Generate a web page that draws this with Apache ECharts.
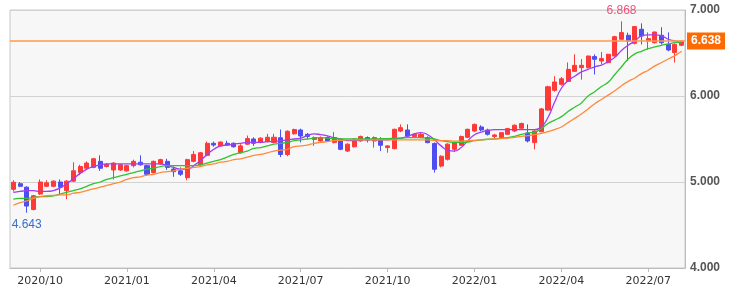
<!DOCTYPE html>
<html><head><meta charset="utf-8">
<script src="https://cdn.jsdelivr.net/npm/echarts@6/dist/echarts.min.js"></script>
<style>html,body{margin:0;padding:0;background:#fff}#c{width:740px;height:292px}</style>
</head><body><div id="c"></div>
<script>
const dates = [
'2020/08/31','2020/09/07','2020/09/14','2020/09/21','2020/09/28','2020/10/05','2020/10/12','2020/10/19','2020/10/26','2020/11/02',
'2020/11/09','2020/11/16','2020/11/23','2020/11/30','2020/12/07','2020/12/14','2020/12/21','2020/12/28','2021/01/04','2021/01/11',
'2021/01/18','2021/01/25','2021/02/01','2021/02/08','2021/02/15','2021/02/22','2021/03/01','2021/03/08','2021/03/15','2021/03/22',
'2021/03/29','2021/04/05','2021/04/12','2021/04/19','2021/04/26','2021/05/03','2021/05/10','2021/05/17','2021/05/24','2021/05/31',
'2021/06/07','2021/06/14','2021/06/21','2021/06/28','2021/07/05','2021/07/12','2021/07/19','2021/07/26','2021/08/02','2021/08/09',
'2021/08/16','2021/08/23','2021/08/30','2021/09/06','2021/09/13','2021/09/20','2021/09/27','2021/10/04','2021/10/11','2021/10/18',
'2021/10/25','2021/11/01','2021/11/08','2021/11/15','2021/11/22','2021/11/29','2021/12/06','2021/12/13','2021/12/20','2021/12/27',
'2022/01/03','2022/01/10','2022/01/17','2022/01/24','2022/01/31','2022/02/07','2022/02/14','2022/02/21','2022/02/28','2022/03/07',
'2022/03/14','2022/03/21','2022/03/28','2022/04/04','2022/04/11','2022/04/18','2022/04/25','2022/05/02','2022/05/09','2022/05/16',
'2022/05/23','2022/05/30','2022/06/06','2022/06/13','2022/06/20','2022/06/27','2022/07/04','2022/07/11','2022/07/18','2022/07/25',
'2022/08/01'];

const opens = [
4.915,4.98,4.94,4.68,4.86,4.95,4.95,5.00,4.90,5.01,
5.11,5.16,5.17,5.24,5.18,5.14,5.14,5.13,5.19,5.23,
5.19,5.11,5.21,5.24,5.15,5.13,5.05,5.24,5.20,5.31,
5.45,5.42,5.45,5.45,5.34,5.44,5.50,5.46,5.47,5.46,
5.515,5.32,5.56,5.605,5.555,5.495,5.477,5.516,5.458,5.497,
5.36,5.41,5.477,5.516,5.477,5.49,5.40,5.388,5.593,5.605,
5.527,5.516,5.516,5.447,5.186,5.264,5.38,5.427,5.52,5.593,
5.64,5.605,5.528,5.516,5.555,5.593,5.625,5.57,5.458,5.584,
5.836,6.066,6.136,6.17,6.287,6.33,6.33,6.458,6.407,6.388,
6.465,6.66,6.706,6.613,6.776,6.64,6.62,6.706,6.60,6.505,
6.59];
const closes = [
4.997,4.95,4.72,4.84,5.00,4.99,5.01,4.94,5.01,5.13,
5.18,5.22,5.27,5.16,5.205,5.22,5.20,5.19,5.24,5.20,
5.09,5.24,5.26,5.17,5.12,5.09,5.26,5.32,5.34,5.45,
5.43,5.465,5.43,5.41,5.42,5.505,5.45,5.51,5.52,5.52,
5.32,5.59,5.61,5.535,5.53,5.516,5.516,5.477,5.516,5.38,
5.44,5.50,5.528,5.488,5.516,5.427,5.42,5.613,5.632,5.535,
5.555,5.555,5.458,5.148,5.30,5.44,5.458,5.528,5.613,5.67,
5.605,5.555,5.547,5.574,5.621,5.66,5.68,5.477,5.593,5.85,
6.107,6.163,6.20,6.31,6.357,6.357,6.465,6.427,6.435,6.485,
6.69,6.737,6.64,6.807,6.698,6.667,6.744,6.62,6.535,6.60,
6.638];
const lows = [
4.89,4.94,4.643,4.67,4.85,4.94,4.94,4.86,4.80,5.00,
5.08,5.15,5.16,5.13,5.17,5.03,5.13,5.12,5.17,5.19,
5.07,5.10,5.20,5.14,5.06,5.07,5.02,5.23,5.19,5.30,
5.41,5.41,5.42,5.40,5.33,5.43,5.42,5.45,5.46,5.45,
5.29,5.30,5.55,5.46,5.50,5.42,5.47,5.47,5.45,5.37,
5.35,5.40,5.47,5.46,5.40,5.36,5.34,5.38,5.58,5.52,
5.52,5.51,5.45,5.11,5.17,5.25,5.35,5.42,5.51,5.58,
5.59,5.54,5.51,5.51,5.55,5.58,5.62,5.46,5.38,5.58,
5.83,6.05,6.12,6.16,6.28,6.19,6.32,6.25,6.37,6.38,
6.46,6.65,6.407,6.60,6.60,6.54,6.61,6.60,6.52,6.39,
6.58];
const highs = [
5.02,5.00,4.95,4.85,5.03,5.02,5.02,5.03,5.02,5.23,
5.20,5.24,5.28,5.31,5.22,5.23,5.21,5.20,5.26,5.31,
5.20,5.25,5.27,5.27,5.18,5.17,5.27,5.36,5.35,5.47,
5.47,5.47,5.48,5.46,5.44,5.54,5.52,5.52,5.56,5.56,
5.61,5.60,5.62,5.62,5.57,5.53,5.53,5.53,5.58,5.50,
5.45,5.51,5.54,5.53,5.53,5.52,5.43,5.62,5.67,5.67,
5.57,5.57,5.53,5.46,5.31,5.45,5.47,5.54,5.62,5.68,
5.66,5.62,5.56,5.58,5.63,5.67,5.69,5.67,5.60,5.86,
6.12,6.23,6.22,6.39,6.485,6.43,6.47,6.485,6.51,6.49,
6.70,6.868,6.737,6.81,6.845,6.74,6.75,6.80,6.74,6.61,
6.65];

const ma5 = [
4.88,4.89,4.90,4.90,4.89,4.89,4.90,4.93,4.98,5.04,
5.10,5.15,5.18,5.20,5.21,5.21,5.21,5.21,5.21,5.21,
5.21,5.21,5.21,5.19,5.17,5.15,5.15,5.19,5.25,5.32,
5.38,5.42,5.43,5.44,5.45,5.46,5.46,5.46,5.47,5.47,
5.48,5.49,5.50,5.51,5.54,5.56,5.55,5.535,5.515,5.50,
5.48,5.48,5.49,5.49,5.49,5.49,5.49,5.50,5.51,5.53,
5.56,5.575,5.55,5.49,5.42,5.37,5.36,5.40,5.48,5.55,
5.58,5.60,5.61,5.61,5.61,5.61,5.61,5.61,5.61,5.64,
5.75,5.93,6.09,6.18,6.23,6.28,6.31,6.34,6.36,6.40,
6.45,6.53,6.59,6.64,6.70,6.71,6.71,6.70,6.66,6.64,
6.63];
const ma13 = [
4.80,4.81,4.81,4.82,4.83,4.83,4.84,4.86,4.88,4.90,
4.92,4.95,4.98,5.00,5.03,5.05,5.07,5.09,5.11,5.13,
5.15,5.16,5.18,5.19,5.19,5.19,5.19,5.19,5.20,5.22,
5.24,5.26,5.29,5.32,5.34,5.36,5.39,5.40,5.42,5.44,
5.45,5.46,5.48,5.49,5.50,5.51,5.515,5.51,5.505,5.50,
5.50,5.50,5.50,5.50,5.50,5.505,5.505,5.51,5.51,5.515,
5.516,5.515,5.51,5.50,5.48,5.47,5.46,5.46,5.465,5.48,
5.49,5.497,5.50,5.51,5.516,5.53,5.555,5.57,5.58,5.62,
5.68,5.72,5.76,5.82,5.87,5.92,6.00,6.05,6.11,6.16,
6.25,6.34,6.43,6.49,6.52,6.55,6.57,6.59,6.605,6.62,
6.63];
const ma26 = [
4.73,4.76,4.78,4.81,4.83,4.84,4.845,4.85,4.85,4.87,
4.88,4.90,4.92,4.94,4.96,4.98,5.00,5.03,5.05,5.06,
5.08,5.09,5.11,5.12,5.13,5.15,5.16,5.17,5.18,5.20,
5.21,5.23,5.24,5.26,5.27,5.29,5.31,5.32,5.34,5.36,
5.37,5.38,5.41,5.42,5.43,5.45,5.46,5.47,5.48,5.485,
5.49,5.49,5.49,5.49,5.49,5.49,5.49,5.49,5.49,5.49,
5.49,5.49,5.49,5.485,5.48,5.48,5.475,5.475,5.48,5.485,
5.49,5.495,5.50,5.505,5.51,5.52,5.53,5.54,5.55,5.565,
5.585,5.61,5.64,5.69,5.74,5.79,5.85,5.91,5.96,6.01,
6.06,6.12,6.17,6.21,6.26,6.30,6.35,6.39,6.43,6.47,
6.52];

const tickDates = ['2020/09/28','2020/12/28','2021/03/29','2021/06/28','2021/09/27','2021/12/27','2022/03/28','2022/06/27'];
const tickLabels = ['2020/10','2021/01','2021/04','2021/07','2021/10','2022/01','2022/04','2022/07'];

const lastClose = closes[closes.length - 1];
const candle = opens.map((o, i) => [o, closes[i], lows[i], highs[i]]);
const isTick = (i, v) => tickDates.indexOf(v) >= 0;

const chart = echarts.init(document.getElementById('c'), null, {renderer: 'canvas'});
const lineSeries = (data, color) => ({
  type: 'line', data: data, symbol: 'none', smooth: true, silent: true,
  lineStyle: {color: color, width: 1.3}, z: 3
});
chart.setOption({
  animation: false,
  backgroundColor: '#fff',
  grid: {left: 10, right: 55, top: 10, bottom: 24, show: true, backgroundColor: '#f7f7f7', borderColor: '#c8c8c8', borderWidth: 1},
  xAxis: {
    type: 'category', data: dates, boundaryGap: true,
    axisLine: {lineStyle: {color: '#bbb'}},
    axisTick: {show: true, interval: isTick, alignWithLabel: true, length: 4, lineStyle: {color: '#bbb'}},
    axisLabel: {interval: isTick, formatter: v => tickLabels[tickDates.indexOf(v)], color: '#333', fontSize: 11, fontFamily: 'DejaVu Sans', margin: 8},
    splitLine: {show: false}
  },
  yAxis: {
    type: 'value', position: 'right', min: 4, max: 7, interval: 1,
    axisLine: {show: true, lineStyle: {color: '#bbb'}},
    axisTick: {show: false},
    axisLabel: {formatter: v => v.toFixed(3), color: '#555', fontSize: 12, fontWeight: 'bold', fontFamily: 'Liberation Sans', margin: 5},
    splitLine: {lineStyle: {color: '#d2d2d2'}}
  },
  series: [
    {
      type: 'candlestick', data: candle, barWidth: '68%', z: 2,
      itemStyle: {color: '#ff3838', color0: '#4e4ef0', borderColor: '#ff3838', borderColor0: '#4e4ef0', borderWidth: 1},
      markPoint: {
        symbol: 'circle', symbolSize: 1, itemStyle: {color: 'rgba(0,0,0,0)'},
        label: {formatter: p => Number(p.value).toFixed(3), fontSize: 12, fontFamily: 'Liberation Sans'},
        data: [
          {type: 'max', valueDim: 'highest', label: {position: 'top', distance: 4, color: '#f0507a'}},
          {type: 'min', valueDim: 'lowest', label: {position: 'bottom', distance: 5, color: '#3a6cc8'}}
        ]
      },
      markLine: {
        symbol: 'none', silent: true, z: 4,
        data: [{yAxis: lastClose}],
        lineStyle: {color: '#ff9a4d', width: 1.5, type: 'solid'},
        label: {position: 'end', formatter: lastClose.toFixed(3), backgroundColor: '#ff6a00', color: '#fff',
                fontWeight: 'bold', fontSize: 12, fontFamily: 'Liberation Sans', padding: [3, 4, 2, 4], distance: 2}
      }
    },
    lineSeries(ma5, '#9f3ff2'),
    lineSeries(ma13, '#2fc42f'),
    lineSeries(ma26, '#ff8a3a')
  ]
});
</script>
</body></html>
